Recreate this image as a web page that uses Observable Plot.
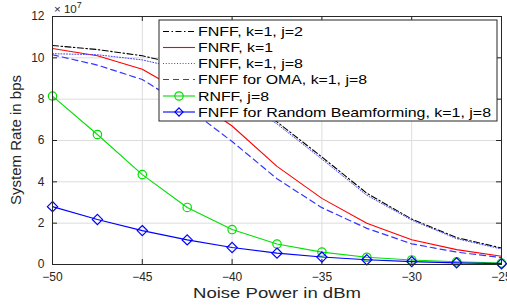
<!DOCTYPE html>
<html>
<head>
<meta charset="utf-8">
<script src="https://cdn.jsdelivr.net/npm/d3@7"></script>
<script src="https://cdn.jsdelivr.net/npm/@observablehq/plot@0.6"></script>
<style>
  html, body { margin: 0; padding: 0; background: #fff; }
  #chart { position: relative; width: 507px; height: 307px; }
  svg { font-family: "Liberation Sans", Arial, sans-serif; }
</style>
</head>
<body>
<div id="chart"></div>
<script>
// Noise power (dBm)
const noise = [-50, -47.5, -45, -42.5, -40, -37.5, -35, -32.5, -30, -27.5, -25];
// System rate in units of 1e7 bps
const fnffJ2   = [10.6, 10.4, 10.1, 9.6, 8.4, 6.9, 5.2, 3.45, 2.2, 1.3, 0.8];
const fnrf     = [10.45, 10.1, 9.45, 8.2, 6.7, 4.75, 3.2, 2.0, 1.2, 0.72, 0.4];
const fnffJ8   = [10.2, 10.15, 9.9, 9.4, 8.3, 6.8, 5.1, 3.35, 2.15, 1.25, 0.75];
const fnffOma  = [10.15, 9.65, 8.95, 7.6, 5.95, 4.15, 2.75, 1.75, 1.0, 0.6, 0.33];
const rnff     = [8.15, 6.29, 4.35, 2.76, 1.69, 0.99, 0.6, 0.35, 0.22, 0.13, 0.07];
const fnffRand = [2.8, 2.18, 1.64, 1.19, 0.82, 0.55, 0.36, 0.23, 0.14, 0.08, 0.04];

const xTicks = [-50, -45, -40, -35, -30, -25];
const yTicks = [0, 2, 4, 6, 8, 10, 12];

const seriesNames = [
  "FNFF, k=1, j=2",
  "FNRF, k=1",
  "FNFF, k=1, j=8",
  "FNFF for OMA, k=1, j=8",
  "RNFF, j=8",
  "FNFF for Random Beamforming, k=1, j=8"
];
const seriesValues = [fnffJ2, fnrf, fnffJ8, fnffOma, rnff, fnffRand];
const styles = [
  {stroke: "#000000", dash: "6,2.5,1.5,2.5", width: 1.1, symbol: null},
  {stroke: "#ff0000", dash: null, width: 1.1, symbol: null},
  {stroke: "#4040ff", dash: "1,1.8", width: 1, symbol: null},
  {stroke: "#3535ff", dash: "6,4", width: 1.2, symbol: null},
  {stroke: "#00e000", dash: null, width: 1.1, symbol: "circle"},
  {stroke: "#0000ff", dash: null, width: 1.1, symbol: "diamond2"}
];
// legend text widths measured on the reference
const legendTextWidth = [105, 75, 105, 169, 71, 293];

const rows = (i) => noise.map((x, k) => ({x, y: seriesValues[i][k]}));

const W = 507, H = 307;
const mL = 52, mR = 6, mT = 16, mB = 43;
const plotH = H - mT - mB;

const marks = [
  Plot.gridX(xTicks, {stroke: "#dcdcdc", strokeOpacity: 1, strokeWidth: 1}),
  Plot.gridY(yTicks, {stroke: "#dcdcdc", strokeOpacity: 1, strokeWidth: 1}),
  Plot.axisX(xTicks, {tickSize: 0, tickPadding: 8, fontSize: 12, fill: "#262626", label: null}),
  Plot.axisY(yTicks, {tickSize: 0, tickPadding: 8, fontSize: 12, fill: "#262626", label: null}),
  // inward ticks
  Plot.tickX(xTicks, {x: d => d, insetTop: plotH - 5, stroke: "#262626"}),
  Plot.tickX(xTicks, {x: d => d, insetBottom: plotH - 5, stroke: "#262626"}),
  Plot.tickY(yTicks, {y: d => d, insetRight: (W - mL - mR) - 5, stroke: "#262626"}),
  Plot.tickY(yTicks, {y: d => d, insetLeft: (W - mL - mR) - 5, stroke: "#262626"})
];
seriesValues.forEach((_, i) => {
  const s = styles[i];
  marks.push(Plot.line(rows(i), {x: "x", y: "y", stroke: s.stroke, strokeWidth: s.width, strokeDasharray: s.dash}));
  if (s.symbol) {
    marks.push(Plot.dot(rows(i), {x: "x", y: "y", stroke: s.stroke, strokeWidth: 1.2, fill: "none", symbol: s.symbol, r: s.symbol === "circle" ? 4.2 : 4.6}));
  }
});
marks.push(Plot.frame({stroke: "#262626", strokeWidth: 1}));

const chart = Plot.plot({
  width: W, height: H,
  marginLeft: mL, marginRight: mR, marginTop: mT, marginBottom: mB,
  x: {domain: [-50, -25]},
  y: {domain: [0, 12]},
  style: {fontFamily: "Liberation Sans, Arial, sans-serif", background: "white"},
  marks
});
document.getElementById("chart").appendChild(chart);

const svg = d3.select(chart);
// axis labels
svg.append("text").attr("x", 277).attr("y", 298).attr("text-anchor", "middle")
  .attr("font-size", 15.5).attr("textLength", 168).attr("lengthAdjust", "spacingAndGlyphs")
  .attr("fill", "#262626").text("Noise Power in dBm");
svg.append("text").attr("transform", "translate(21,140) rotate(-90)").attr("text-anchor", "middle")
  .attr("font-size", 15).attr("fill", "#262626").text("System Rate in bps");
// exponent
const ex = svg.append("text").attr("x", 54).attr("y", 13).attr("text-anchor", "start")
  .attr("font-size", 11.5).attr("fill", "#262626");
ex.append("tspan").text("\u00d7 10");
ex.append("tspan").attr("dy", -5).attr("font-size", 9).text("7");

// legend
const lg = svg.append("g");
const lx = 159, ly = 20, lw = 338, lh = 101;
lg.append("rect").attr("x", lx).attr("y", ly).attr("width", lw).attr("height", lh)
  .attr("fill", "white").attr("stroke", "#262626").attr("stroke-width", 1);
const rowY = [31.5, 47.5, 63.5, 79.5, 96, 112];
seriesNames.forEach((name, i) => {
  const s = styles[i];
  const y = rowY[i];
  lg.append("line").attr("x1", 163).attr("x2", 195).attr("y1", y).attr("y2", y)
    .attr("stroke", s.stroke).attr("stroke-width", s.width)
    .attr("stroke-dasharray", s.dash);
  if (s.symbol === "circle") {
    lg.append("circle").attr("cx", 179).attr("cy", y).attr("r", 4.2)
      .attr("fill", "none").attr("stroke", s.stroke).attr("stroke-width", 1.2);
  } else if (s.symbol) {
    lg.append("path").attr("d", d3.symbol(d3.symbolDiamond2, 4.6 * 4.6 * 2)())
      .attr("transform", `translate(179,${y})`)
      .attr("fill", "none").attr("stroke", s.stroke).attr("stroke-width", 1.2);
  }
  lg.append("text").attr("x", 198).attr("y", y).attr("dy", "0.35em")
    .attr("text-anchor", "start")
    .attr("font-size", 13.5).attr("fill", "#000")
    .attr("textLength", legendTextWidth[i]).attr("lengthAdjust", "spacingAndGlyphs")
    .text(name);
});
</script>
</body>
</html>
